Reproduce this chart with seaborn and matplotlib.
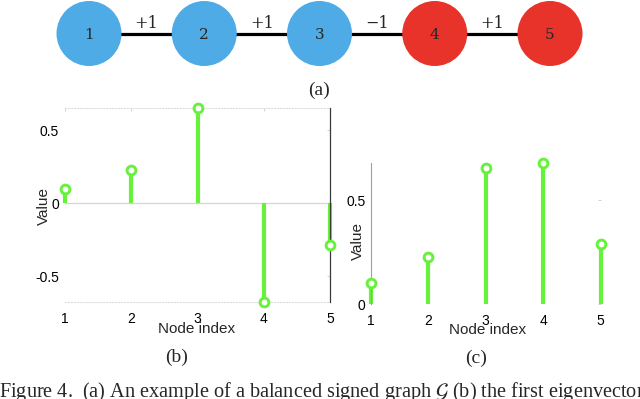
import numpy as np
import pandas as pd
import matplotlib
matplotlib.use("Agg")
import matplotlib.pyplot as plt
import seaborn as sns

sns.set_style("white")
plt.rcParams["font.family"] = ["Liberation Sans", "DejaVu Sans"]
plt.rcParams["mathtext.fontset"] = "stix"

# data
nodes = [1, 2, 3, 4, 5]
node_sign = ["pos", "pos", "pos", "neg", "neg"]
edge_labels = ["+1", "+1", "\u22121", "+1"]
eigvec = [0.10, 0.225, 0.655, -0.68, -0.287]
abs_eigvec = [0.10, 0.225, 0.655, 0.68, 0.287]

W, H = 640, 399
BLUE, RED = "#4EABE6", "#E8332A"
LIME = "#66F23A"
SERIF = ["Liberation Serif", "DejaVu Serif"]


def rect(x0, y0, x1, y1):
    # pixel box -> figure fraction
    return [x0 / W, 1 - y1 / H, (x1 - x0) / W, (y1 - y0) / H]


fig = plt.figure(figsize=(6.4, 3.99), dpi=100)

# (a) signed graph
ax_a = fig.add_axes(rect(89, 0, 550, 67))
ax_a.set_xlim(1, 5)
ax_a.set_ylim(-1, 1)
ax_a.axis("off")
ax_a.plot(nodes, [0] * 5, color="black", lw=2.3, zorder=1, clip_on=False)
df_nodes = pd.DataFrame({"node": nodes, "y": 0, "sign": node_sign})
sns.scatterplot(data=df_nodes, x="node", y="y", hue="sign",
                palette={"pos": BLUE, "neg": RED}, s=2190, linewidth=0,
                legend=False, ax=ax_a, zorder=2, clip_on=False)
for n in nodes:
    ax_a.text(n, -0.03, str(n), ha="center", va="center", fontsize=11,
              family="DejaVu Serif", zorder=3)
for i, lab in enumerate(edge_labels):
    ax_a.annotate(lab, (nodes[i] + 0.5, 0), xytext=(0, 7),
                  textcoords="offset points", ha="center", va="center",
                  fontsize=11.5, family="DejaVu Serif")
ax_a.set_xlabel("")
ax_a.set_ylabel("")
fig.text(319 / W, 1 - 90 / H, "(a)", ha="center", va="center",
         fontsize=14, family=SERIF)


def stem_panel(ax, vals, pos_only):
    ax.vlines(nodes, 0, vals, color=LIME, lw=3.0, zorder=2, clip_on=False)
    sns.scatterplot(x=nodes, y=vals, marker="o", s=40, color="white",
                    edgecolor=LIME, linewidth=2.1, ax=ax, zorder=3,
                    clip_on=False)
    ax.set_xlim(1, 5)
    ax.set_ylim(0 if pos_only else min(vals), max(vals))
    ax.set_xticks(nodes)
    ax.set_xticklabels([str(n) for n in nodes])
    ax.tick_params(axis="both", labelsize=10, length=2, width=0.6,
                   direction="in", colors="#cccccc", labelcolor="black")
    ax.set_facecolor("none")


# (b) first eigenvector
ax_b = fig.add_axes(rect(65, 107.7, 330, 302.3))
stem_panel(ax_b, eigvec, False)
ax_b.set_yticks([-0.5, 0, 0.5])
ax_b.set_yticklabels(["-0.5", "0", "0.5"])
ax_b.tick_params(axis="x", pad=7, top=True)
ax_b.tick_params(axis="y", pad=4.3, left=False, right=True)
ax_b.axhline(0, color="#d4d4d4", lw=0.9, zorder=1)
ax_b.spines["left"].set_visible(False)
ax_b.spines["right"].set_color("#3a3a3a")
ax_b.spines["right"].set_linewidth(0.9)
for s in ["top", "bottom"]:
    ax_b.spines[s].set_color("#dddddd")
    ax_b.spines[s].set_linestyle(":")
    ax_b.spines[s].set_linewidth(0.8)
fig.text(197 / W, 1 - 329 / H, "Node index", ha="center", va="center",
         fontsize=11)
fig.text(44 / W, 1 - 206 / H, "Value", ha="center", va="center",
         rotation=90, fontsize=11)
fig.text(177 / W, 1 - 357 / H, "(b)", ha="center", va="center",
         fontsize=14, family=SERIF)

# (c) absolute values
ax_c = fig.add_axes(rect(370.7, 163, 600.7, 304))
stem_panel(ax_c, abs_eigvec, True)
ax_c.set_yticks([0, 0.5])
ax_c.set_yticklabels(["0", "0.5"])
ax_c.tick_params(axis="x", pad=7, bottom=False)
ax_c.tick_params(axis="y", pad=3.6, left=False, right=True)
for s in ["top", "bottom", "right"]:
    ax_c.spines[s].set_visible(False)
ax_c.spines["left"].set_color("#a0a0a0")
ax_c.spines["left"].set_linewidth(0.8)
fig.text(488 / W, 1 - 330 / H, "Node index", ha="center", va="center",
         fontsize=11)
fig.text(358 / W, 1 - 241 / H, "Value", ha="center", va="center",
         rotation=90, fontsize=11)
fig.text(476 / W, 1 - 358 / H, "(c)", ha="center", va="center",
         fontsize=14, family=SERIF)

# caption (cut at the bottom edge, runs off the right side)
fig.text(-1 / W, 1 - 397.5 / H,
         r"Figure 4.  (a) An example of a balanced signed graph $\mathcal{G}$ (b) the first eigenvector",
         ha="left", va="baseline", fontsize=14.6, family=SERIF)

fig.savefig("out.png", dpi=100)
plt.close(fig)
